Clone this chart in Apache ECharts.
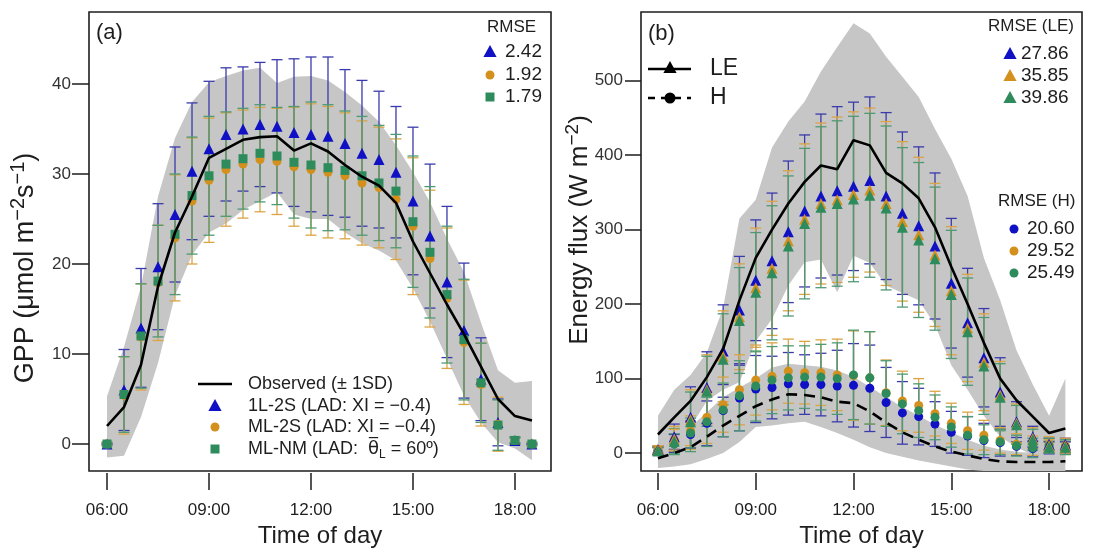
<!DOCTYPE html>
<html>
<head>
<meta charset="utf-8">
<script src="https://cdn.jsdelivr.net/npm/echarts@6/dist/echarts.min.js"></script>
<style>html,body{margin:0;padding:0;background:#fff}#c{width:1105px;height:550px}</style>
</head>
<body>
<div id="c"></div>
<script>
// ---------- data ----------
const timeLabels = ['06:00','06:30','07:00','07:30','08:00','08:30','09:00','09:30','10:00','10:30','11:00','11:30','12:00',
  '12:30','13:00','13:30','14:00','14:30','15:00','15:30','16:00','16:30','17:00','17:30','18:00','18:30'];
const xTickLabels = ['06:00','09:00','12:00','15:00','18:00'];
const gppTicks = [0, 10, 20, 30, 40];
const fluxTicks = [0, 100, 200, 300, 400, 500];

// Panel (a) GPP
const gppObs      = [2.0, 4.1, 8.8, 17.5, 23.5, 27.5, 31.8, 32.8, 33.8, 34.1, 34.2, 32.6, 33.4, 32.5, 31.0, 29.7, 28.7, 26.8, 22.5, 19.0, 15.5, 12.2, 8.6, 5.0, 3.1, 2.6];
const gppObsUpper = [5.3, 10.8, 17.5, 27.5, 34.0, 38.0, 40.2, 40.9, 41.5, 41.8, 40.1, 40.8, 40.9, 40.4, 39.1, 37.6, 35.8, 33.2, 30.2, 26.9, 22.8, 19.1, 13.5, 8.2, 6.8, 7.0];
const gppObsLower = [-1.5, -1.3, 3.0, 9.0, 16.5, 21.0, 23.5, 24.5, 26.0, 27.0, 28.0, 25.5, 25.0, 25.0, 23.5, 22.3, 21.5, 20.4, 17.3, 13.6, 9.5, 5.4, 2.4, 0.2, -0.5, -1.8];
const gpp1L2S     = [0, 6.0, 12.9, 19.7, 25.5, 30.3, 32.8, 34.4, 35.0, 35.5, 35.3, 34.6, 34.4, 34.2, 33.4, 32.3, 31.6, 30.2, 27.0, 23.1, 18.0, 12.6, 7.2, 2.4, 0.4, 0];
const gpp1L2SSD   = [0, 4.5, 6.6, 7.0, 7.5, 7.6, 7.5, 7.4, 6.9, 6.9, 7.4, 8.2, 8.6, 8.8, 8.2, 8.1, 7.6, 7.3, 8.2, 8.0, 8.4, 7.5, 4.6, 2.6, 0.3, 0];
const gppML2S     = [0, 5.4, 11.9, 17.9, 22.9, 27.0, 29.3, 30.5, 31.1, 31.6, 31.4, 30.8, 30.5, 30.2, 29.8, 29.0, 28.5, 27.2, 24.2, 20.6, 16.2, 11.3, 6.6, 2.2, 0.4, 0];
const gppML2SSD   = [0.2, 4.3, 5.9, 6.4, 7.0, 7.0, 6.9, 6.3, 6.0, 5.8, 5.9, 6.6, 7.3, 7.3, 7.0, 6.9, 6.7, 6.7, 7.6, 7.6, 7.8, 6.9, 4.6, 3.0, 0.4, 0.2];
const gppMLNM     = [0, 5.5, 12.0, 18.1, 23.3, 27.6, 29.8, 31.1, 31.7, 32.3, 32.0, 31.3, 31.0, 30.7, 30.4, 29.8, 29.0, 28.1, 24.7, 21.3, 16.6, 11.6, 6.8, 2.1, 0.4, 0];
const gppMLNMSD   = [0.2, 4.2, 5.8, 6.2, 6.7, 6.5, 6.6, 5.8, 5.6, 5.4, 5.4, 6.2, 7.0, 7.0, 6.6, 6.6, 6.4, 6.3, 7.3, 7.3, 7.6, 6.7, 4.4, 2.8, 0.4, 0.2];
const rmseGPP = ['2.42', '1.92', '1.79'];

// Panel (b) energy fluxes
const leObs      = [25, 48, 70, 102, 140, 205, 262, 300, 335, 364, 386, 381, 420, 413, 376, 362, 342, 303, 250, 200, 148, 100, 71, 49, 27, 33];
const leObsUpper = [50, 85, 105, 135, 195, 315, 340, 410, 445, 472, 512, 545, 577, 563, 532, 505, 478, 435, 395, 345, 262, 205, 138, 92, 50, 100];
const leObsLower = [0, 10, 35, 70, 85, 95, 150, 180, 225, 256, 260, 216, 265, 255, 225, 215, 205, 172, 118, 85, 50, 22, 8, -3, -8, -15];
const hObs       = [-7, 0, 8, 22, 37, 50, 63, 72, 79, 78, 75, 69, 67, 56, 41, 28, 18, 9, 2, -3, -8, -11, -12, -12, -12, -11];
const hObsUpper  = [15, 22, 35, 55, 75, 88, 100, 115, 120, 118, 116, 111, 102, 89, 75, 62, 50, 38, 28, 18, 10, 5, 2, 0, 0, -2];
const hObsLower  = [-20, -18, -15, -8, 0, 15, 35, 37, 40, 42, 35, 27, 18, 8, 0, -5, -10, -14, -18, -22, -24, -24, -24, -24, -24, -24];

const le1L2S   = [5, 22, 48, 88, 137, 192, 232, 258, 297, 325, 345, 352, 358, 366, 345, 322, 305, 278, 228, 175, 128, 82, 42, 22, 12, 12];
const le1L2SSD = [5, 17, 41, 48, 62, 72, 81, 91, 95, 102, 110, 113, 113, 112, 112, 109, 106, 98, 87, 73, 66, 46, 27, 14, 8, 8];
const leML2S   = [4, 19, 45, 85, 130, 183, 222, 248, 285, 314, 335, 340, 347, 353, 335, 311, 293, 266, 218, 168, 122, 78, 40, 20, 10, 10];
const leML2SSD = [5, 17, 40, 47, 61, 71, 80, 90, 94, 101, 108, 111, 111, 110, 110, 107, 104, 96, 86, 72, 65, 45, 26, 14, 8, 8];
const leMLNM   = [3, 16, 42, 83, 126, 178, 216, 242, 278, 308, 330, 335, 341, 346, 329, 303, 286, 261, 213, 163, 117, 75, 38, 18, 8, 8];
const leMLNMSD = [5, 17, 40, 47, 61, 71, 80, 90, 94, 101, 108, 111, 111, 110, 110, 107, 104, 96, 86, 72, 65, 45, 26, 14, 8, 8];

const h1L2S   = [3, 13, 25, 40, 57, 74, 86, 88, 93, 92, 92, 90, 91, 87, 68, 54, 49, 39, 28, 23, 17, 14, 9, 6, 7, 7];
const h1L2SSD = [5, 12, 18, 30, 35, 44, 45, 42, 42, 40, 42, 48, 56, 58, 47, 42, 38, 30, 28, 26, 23, 18, 12, 10, 8, 8];
const hML2S   = [5, 18, 30, 48, 65, 85, 98, 103, 110, 108, 108, 105, 104, 101, 81, 70, 64, 53, 40, 30, 24, 17, 12, 10, 12, 10];
const hML2SSD = [5, 14, 20, 35, 37, 47, 47, 45, 43, 42, 44, 48, 60, 62, 44, 40, 36, 30, 27, 25, 20, 17, 14, 13, 10, 10];
const hMLNM   = [2, 12, 27, 42, 58, 77, 90, 98, 101, 102, 102, 100, 105, 101, 80, 66, 57, 48, 35, 24, 18, 15, 10, 7, 10, 8];
const hMLNMSD = [5, 14, 20, 33, 36, 47, 47, 45, 43, 42, 44, 48, 60, 62, 44, 40, 36, 30, 27, 25, 20, 17, 14, 13, 10, 10];
const rmseLE = ['27.86', '35.85', '39.86'];
const rmseH  = ['20.60', '29.52', '25.49'];

// ---------- styles ----------
const FONT = "'Liberation Sans', Arial, sans-serif";
const BLUE = '#1010c4', ORANGE = '#d4901c', GREEN = '#2e8b5c';
const BLUE_BAR = '#3a3aac', ORANGE_BAR = '#dba445', GREEN_BAR = '#4e9a74';
const GRAY = '#c6c6c6', INK = '#1e1e1e';

const toHour = s => parseInt(s.slice(0, 2), 10) + parseInt(s.slice(3), 10) / 60;
const HRS = timeLabels.map(toHour);
const xTickHrs = xTickLabels.map(toHour);

function band(ax, up, lo) {
  return {
    type: 'custom', xAxisIndex: ax, yAxisIndex: ax, silent: true, clip: true,
    data: HRS.map((h, i) => [h, lo[i], up[i]]),
    renderItem(params, api) {
      if (params.dataIndex !== 0) return null;
      const pts = [];
      for (let i = 0; i < HRS.length; i++) pts.push(api.coord([HRS[i], up[i]]));
      for (let i = HRS.length - 1; i >= 0; i--) pts.push(api.coord([HRS[i], lo[i]]));
      return { type: 'polygon', shape: { points: pts }, style: { fill: GRAY } };
    }
  };
}
function errBar(ax, mean, sd, color, cap) {
  return {
    type: 'custom', xAxisIndex: ax, yAxisIndex: ax, silent: true,
    data: HRS.map((h, i) => [h, mean[i] - sd[i], mean[i] + sd[i]]),
    renderItem(params, api) {
      const x = api.value(0);
      const a = api.coord([x, api.value(1)]), b = api.coord([x, api.value(2)]);
      const st = { stroke: color, lineWidth: 1.3 };
      return { type: 'group', children: [
        { type: 'line', shape: { x1: a[0], y1: a[1], x2: b[0], y2: b[1] }, style: st },
        { type: 'line', shape: { x1: a[0] - cap, y1: a[1], x2: a[0] + cap, y2: a[1] }, style: st },
        { type: 'line', shape: { x1: b[0] - cap, y1: b[1], x2: b[0] + cap, y2: b[1] }, style: st }
      ] };
    }
  };
}
function points(ax, vals, symbol, size, color) {
  return { type: 'scatter', xAxisIndex: ax, yAxisIndex: ax, silent: true, symbol, symbolSize: size,
    itemStyle: { color, opacity: 1 }, data: HRS.map((h, i) => [h, vals[i]]) };
}
function obsLine(ax, vals, dashed) {
  return { type: 'line', xAxisIndex: ax, yAxisIndex: ax, silent: true, symbol: 'none', showSymbol: false,
    lineStyle: { color: '#000', width: 2.6, type: dashed ? [11, 7] : 'solid' },
    data: HRS.map((h, i) => [h, vals[i]]) };
}
function xAxis(grid, min, max) {
  return {
    gridIndex: grid, type: 'value', min, max, position: 'bottom', offset: 2,
    axisLine: { show: false, onZero: false }, splitLine: { show: false },
    axisTick: { show: true, inside: false, customValues: xTickHrs, length: 17, lineStyle: { color: INK, width: 1.5 } },
    axisLabel: { customValues: xTickHrs, margin: 29, fontSize: 17, color: INK, fontFamily: FONT,
      formatter: v => xTickLabels[xTickHrs.findIndex(t => Math.abs(t - v) < 1e-6)] || '' },
    name: 'Time of day', nameLocation: 'middle', nameGap: 51,
    nameTextStyle: { fontSize: 24, color: INK, fontFamily: FONT }
  };
}
function yAxis(grid, min, max, ticks, tickLen) {
  return {
    gridIndex: grid, type: 'value', min, max, position: 'left',
    axisLine: { show: false, onZero: false }, splitLine: { show: false },
    axisTick: { show: true, inside: false, customValues: ticks, length: tickLen, lineStyle: { color: INK, width: 1.5 } },
    axisLabel: { customValues: ticks, margin: 18, fontSize: 17, color: '#333', fontFamily: FONT }
  };
}

// graphic helpers
function txt(x, y, text, size, extra) {
  return Object.assign({ type: 'text', x, y, silent: true,
    style: Object.assign({ text, fontSize: size, fontFamily: FONT, fill: INK, align: 'left', verticalAlign: 'middle' }, extra || {}) });
}
function tri(cx, cy, s, color) {
  return { type: 'polygon', silent: true, shape: { points: [[cx, cy - s * 0.58], [cx - s * 0.55, cy + s * 0.42], [cx + s * 0.55, cy + s * 0.42]] }, style: { fill: color } };
}
function circ(cx, cy, r, color) { return { type: 'circle', silent: true, shape: { cx, cy, r }, style: { fill: color } }; }
function sq(cx, cy, s, color) { return { type: 'rect', silent: true, shape: { x: cx - s / 2, y: cy - s / 2, width: s, height: s }, style: { fill: color } }; }
function hline(x1, x2, y, dash) {
  return { type: 'line', silent: true, shape: { x1, y1: y, x2, y2: y }, style: { stroke: '#000', lineWidth: 2.5, lineDash: dash || null } };
}

const graphic = [
  // panel (a)
  txt(96, 33, '(a)', 22),
  txt(487, 27, 'RMSE', 17),
  tri(490, 52, 12, BLUE), txt(505, 52, rmseGPP[0], 19),
  circ(490, 75, 4.5, ORANGE), txt(505, 75, rmseGPP[1], 19),
  sq(490, 97, 9, GREEN), txt(505, 97, rmseGPP[2], 19),
  hline(198, 232, 384),
  txt(248, 384, 'Observed (\u00b1 1SD)', 18),
  tri(215, 406, 12, BLUE), txt(248, 406, '1L-2S (LAD: XI = \u22120.4)', 18),
  circ(215, 427, 4.5, ORANGE), txt(248, 427, 'ML-2S (LAD: XI = \u22120.4)', 18),
  sq(215, 449, 9, GREEN),
  { type: 'text', x: 248, y: 449, silent: true, style: {
      text: '{a|ML-NM (LAD:  }{th|\u03b8\u0305}{s|L}{a| = 60\u00ba)}', align: 'left', verticalAlign: 'middle', fill: INK,
      rich: { a: { fontSize: 18, fontFamily: FONT, lineHeight: 24 },
              th: { fontSize: 18, fontFamily: "'DejaVu Sans', sans-serif", lineHeight: 24 },
              s: { fontSize: 12, fontFamily: FONT, lineHeight: 12, verticalAlign: 'bottom' } } } },
  { type: 'text', x: 26, y: 268, rotation: Math.PI / 2, silent: true, style: {
      text: '{a|GPP (\u03bcmol m}{s|\u22122}{a|s}{s|\u22121}{a|)}', align: 'center', verticalAlign: 'middle', fill: INK,
      rich: { a: { fontSize: 27, fontFamily: FONT, lineHeight: 35 }, s: { fontSize: 20, fontFamily: FONT, lineHeight: 18, verticalAlign: 'top' } } } },
  // panel (b)
  txt(648, 34, '(b)', 22),
  hline(648, 691, 69), tri(670, 68, 12, '#000'), txt(710, 69, 'LE', 23),
  hline(648, 691, 98, [7, 6]), circ(670, 98, 5.5, '#000'), txt(710, 98, 'H', 23),
  txt(988, 26, 'RMSE (LE)', 17),
  tri(1010, 54, 12, BLUE), txt(1021, 54, rmseLE[0], 19),
  tri(1010, 76, 12, ORANGE), txt(1021, 76, rmseLE[1], 19),
  tri(1010, 98, 12, GREEN), txt(1021, 98, rmseLE[2], 19),
  txt(998, 201, 'RMSE (H)', 17),
  circ(1014, 229, 4.5, BLUE), txt(1027, 229, rmseH[0], 19),
  circ(1014, 251, 4.5, ORANGE), txt(1027, 251, rmseH[1], 19),
  circ(1014, 273, 4.5, GREEN), txt(1027, 273, rmseH[2], 19),
  { type: 'text', x: 580, y: 230, rotation: Math.PI / 2, silent: true, style: {
      text: '{a|Energy flux (W m}{s|\u22122}{a|)}', align: 'center', verticalAlign: 'middle', fill: INK,
      rich: { a: { fontSize: 26, fontFamily: FONT, lineHeight: 34 }, s: { fontSize: 19, fontFamily: FONT, lineHeight: 17, verticalAlign: 'top' } } } }
];

const option = {
  animation: false,
  backgroundColor: '#fff',
  grid: [
    { left: 89, top: 12, width: 462, height: 459, show: true, borderColor: INK, borderWidth: 1.6, backgroundColor: 'transparent',
      containLabel: false, outerBoundsMode: 'none' },
    { left: 641, top: 12, width: 441, height: 459, show: true, borderColor: INK, borderWidth: 1.6, backgroundColor: 'transparent',
      containLabel: false, outerBoundsMode: 'none' }
  ],
  xAxis: [xAxis(0, 5.47, 19.06), xAxis(1, 5.48, 19.01)],
  yAxis: [yAxis(0, -3, 48, gppTicks, 17), yAxis(1, -24, 592, fluxTicks, 16)],
  series: [
    band(0, gppObsUpper, gppObsLower),
    errBar(0, gpp1L2S, gpp1L2SSD, BLUE_BAR, 5.5),
    errBar(0, gppML2S, gppML2SSD, ORANGE_BAR, 5.5),
    errBar(0, gppMLNM, gppMLNMSD, GREEN_BAR, 5.5),
    obsLine(0, gppObs, false),
    points(0, gpp1L2S, 'triangle', 11, BLUE),
    points(0, gppML2S, 'circle', 9, ORANGE),
    points(0, gppMLNM, 'rect', 9, GREEN),

    band(1, leObsUpper, leObsLower),
    band(1, hObsUpper, hObsLower),
    errBar(1, le1L2S, le1L2SSD, BLUE_BAR, 5.5),
    errBar(1, leML2S, leML2SSD, ORANGE_BAR, 5.5),
    errBar(1, leMLNM, leMLNMSD, GREEN_BAR, 5.5),
    errBar(1, h1L2S, h1L2SSD, BLUE_BAR, 5.5),
    errBar(1, hML2S, hML2SSD, ORANGE_BAR, 5.5),
    errBar(1, hMLNM, hMLNMSD, GREEN_BAR, 5.5),
    obsLine(1, leObs, false),
    obsLine(1, hObs, true),
    points(1, h1L2S, 'circle', 9, BLUE),
    points(1, hML2S, 'circle', 9, ORANGE),
    points(1, hMLNM, 'circle', 9, GREEN),
    points(1, le1L2S, 'triangle', 11, BLUE),
    points(1, leML2S, 'triangle', 11, ORANGE),
    points(1, leMLNM, 'triangle', 11, GREEN)
  ],
  graphic
};
const chart = echarts.init(document.getElementById('c'), null, { renderer: 'canvas' });
chart.setOption(option);
</script>
</body>
</html>
